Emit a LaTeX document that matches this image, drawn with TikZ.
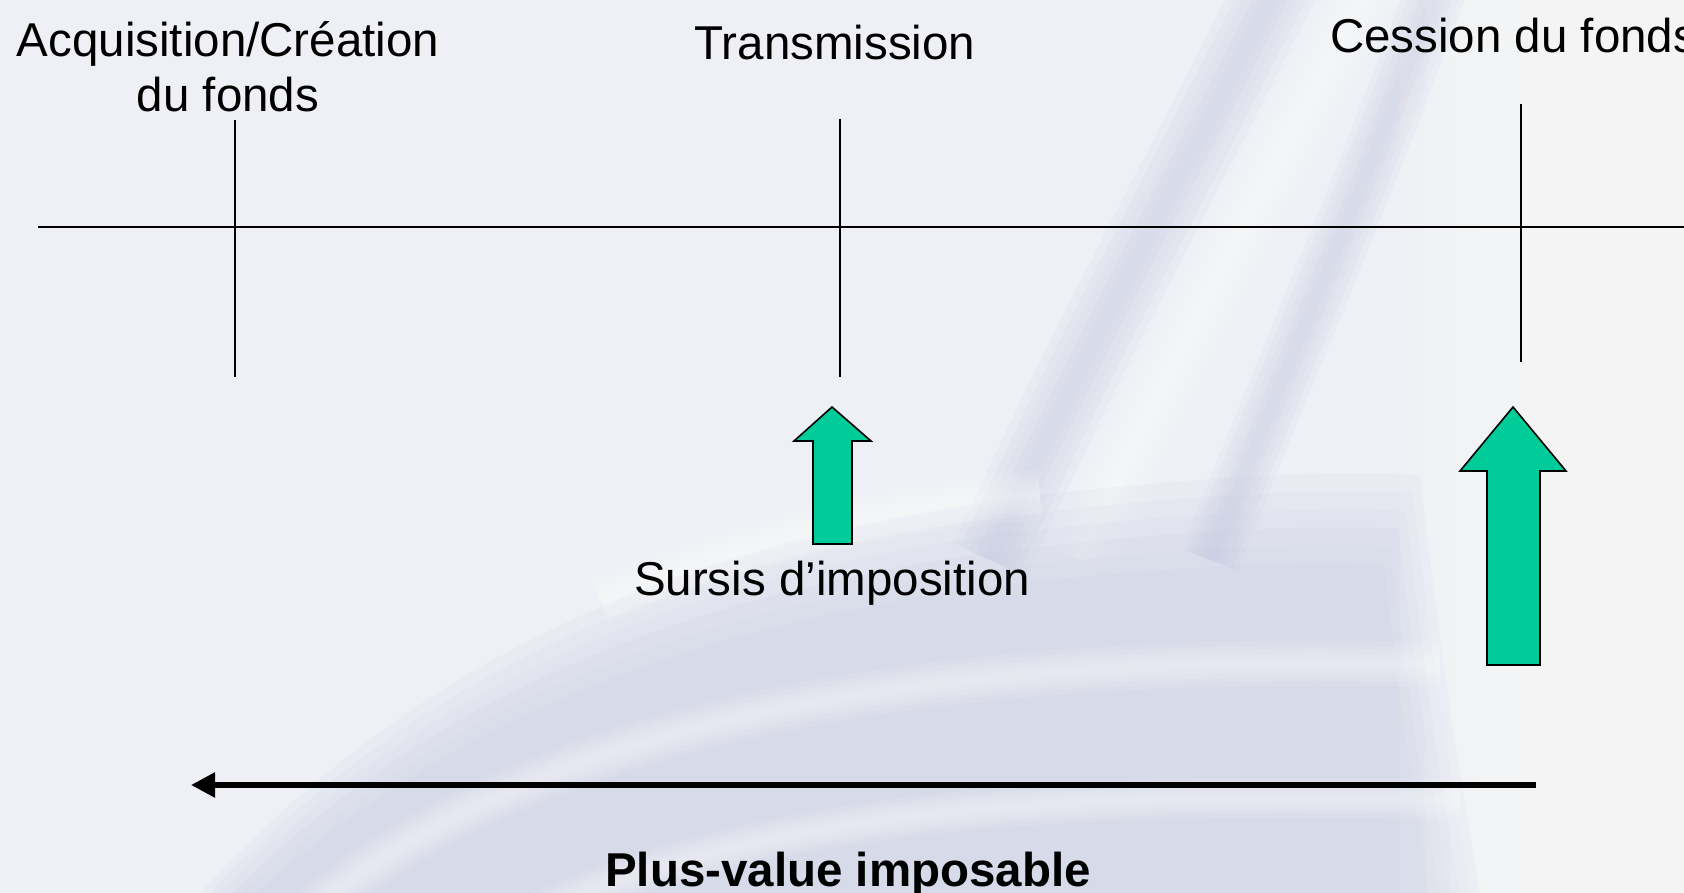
\documentclass[tikz,border=0pt]{standalone}
\usepackage{fontspec}
\setmainfont{Liberation Sans}
\usetikzlibrary{arrows.meta}
\definecolor{bgbase}{RGB}{238,240,245}
\definecolor{lav}{RGB}{190,194,222}
\definecolor{arrowgreen}{RGB}{0,204,153}
\tikzset{
  lbl/.style={inner sep=0pt, anchor=base, font=\fontsize{47.5}{56}\selectfont},
  boldlbl/.style={lbl, font=\fontsize{47.5}{56}\selectfont\bfseries},
  tick/.style={line width=1.8pt, black},
  axis/.style={line width=1.8pt, black},
  blockarrow/.style={fill=arrowgreen, draw=black, line width=1.6pt, line join=miter},
  bigarrow/.style={line width=5.5pt, -{Triangle[length=24pt,width=24pt]}}
}
\newcommand{\softstroke}[3]{%
  \foreach \w in {1.0,0.8,0.6,0.4,0.2}{%
    \draw[#1, opacity=0.1, line width=\w*#2pt, line cap=butt] #3;}%
}
\begin{document}
\begin{tikzpicture}[x=1pt,y=-1pt]
\useasboundingbox (0,0) rectangle (1684,893);
\clip (0,0) rectangle (1684,893);
% background
\fill[bgbase] (0,0) rectangle (1684,893);
% diagonal bands upper right (drawn first, they merge into the lower region)
\softstroke{lav}{80}{(1280,-20) .. controls (1180,180) and (1090,340) .. (990,560)}
\softstroke{white}{70}{(1370,-20) .. controls (1270,180) and (1180,340) .. (1080,560)}
\softstroke{lav}{60}{(1440,-20) .. controls (1360,200) and (1280,380) .. (1210,560)}
% lower lavender region with soft edges
\foreach \d in {0,18,36,54,72,90}{
  \fill[lav, opacity=0.09, yshift=-\d pt, xshift=-0.4*\d pt] (200,893) .. controls (380,700) and (600,560) .. (1000,500)
     .. controls (1200,475) and (1350,470) .. (1420,475) .. controls (1440,650) and (1460,780) .. (1480,893) -- cycle;
}
% white page streaks
\softstroke{white}{50}{(600,600) .. controls (780,530) and (900,505) .. (1040,495)}
\softstroke{white}{45}{(300,920) .. controls (520,730) and (900,650) .. (1440,665)}
\softstroke{white}{40}{(520,920) .. controls (760,810) and (1050,790) .. (1460,800)}
% whiter right part
\foreach \k in {0,...,6}{
  \fill[white, opacity=0.09] (1400+\k*25,0) rectangle (1684,893);
}

% timeline
\coordinate (axL) at (38,227);
\coordinate (axR) at (1684,227);
\draw[axis] (axL) -- (axR);
\coordinate (t1a) at (235,120); \coordinate (t1b) at (235,377);
\coordinate (t2a) at (840,119); \coordinate (t2b) at (840,377);
\coordinate (t3a) at (1521,104); \coordinate (t3b) at (1521,362);
\draw[tick] (t1a) -- (t1b);
\draw[tick] (t2a) -- (t2b);
\draw[tick] (t3a) -- (t3b);

% labels
\node[lbl] (acq) at (228,57) {Acquisition/Création};
\node[lbl] (acq2) at (228,112) {du fonds};
\node[lbl] (trans) at (835,60) {Transmission};
\node[lbl, anchor=base west] (cess) at (1330,53) {Cession du fonds};
\node[lbl] (sursis) at (832,595) {Sursis d’imposition};
\node[boldlbl] (pv) at (848,886) {Plus-value imposable};

% green block arrows
\draw[blockarrow] (832,407) -- (871,441) -- (852,441) -- (852,544) -- (813,544) -- (813,441) -- (794,441) -- cycle;
\draw[blockarrow] (1513,407) -- (1566,471) -- (1540,471) -- (1540,665) -- (1487,665) -- (1487,471) -- (1460,471) -- cycle;

% plus-value arrow
\coordinate (pvR) at (1536,785);
\coordinate (pvL) at (191,785);
\draw[bigarrow] (pvR) -- (pvL);
\end{tikzpicture}
\end{document}
